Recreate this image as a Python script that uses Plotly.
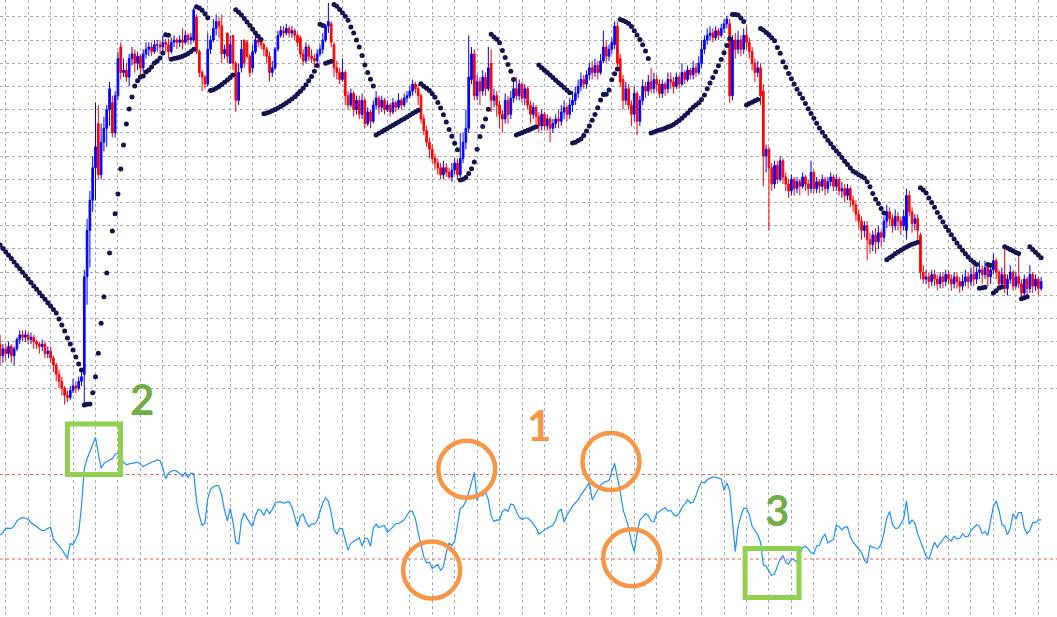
import plotly.graph_objects as go

# ---------------- data (price in points, oscillator in RSI-like units) ----------------
opens = [
119, 114, 117, 115, 118, 114, 117, 121,
123, 122, 123, 121, 122, 120, 119, 118,
119, 115, 116, 113, 110, 106, 103, 100,
97, 96, 99, 101, 100, 103, 106, 148,
168, 181, 195, 214, 192, 206, 212, 220,
223, 210, 226, 247, 236, 237, 234, 242,
244, 240, 243, 238, 244, 246, 247, 245,
248, 248, 247, 249, 248, 245, 249, 250,
249, 250, 249, 252, 250, 250, 260, 245,
236, 234, 231, 246, 250, 255, 258, 256,
244, 253, 240, 252, 240, 224, 238, 250,
249, 243, 238, 245, 250, 249, 248, 246,
243, 236, 238, 246, 252, 254, 253, 255,
253, 254, 252, 251, 244, 241, 247, 243,
242, 241, 244, 246, 250, 256, 257, 248,
238, 236, 233, 236, 226, 222, 227, 220,
224, 218, 224, 214, 219, 215, 222, 225,
221, 224, 220, 222, 219, 223, 221, 224,
222, 225, 226, 228, 231, 229, 226, 216,
211, 206, 203, 199, 197, 195, 192, 195,
193, 191, 194, 197, 192, 199, 206, 212,
233, 244, 226, 232, 228, 234, 229, 240,
224, 226, 222, 218, 216, 224, 218, 225,
229, 226, 231, 225, 229, 222, 218, 221,
217, 213, 218, 213, 216, 212, 214, 216,
215, 219, 221, 218, 222, 224, 227, 230,
233, 231, 235, 238, 236, 239, 236, 241,
247, 243, 246, 248, 256, 242, 233, 224,
229, 222, 218, 227, 215, 224, 230, 228,
232, 229, 233, 231, 227, 231, 229, 233,
232, 230, 234, 231, 236, 233, 237, 235,
238, 236, 240, 246, 250, 252, 253, 251,
254, 252, 255, 257, 257, 226, 250, 246,
250, 246, 252, 249, 245, 240, 236, 238,
228, 200, 203, 195, 188, 196, 190, 198,
191, 188, 185, 190, 186, 189, 187, 191,
188, 186, 193, 186, 189, 187, 190, 186,
189, 191, 187, 190, 185, 186, 183, 186,
181, 179, 175, 172, 168, 170, 164, 162,
166, 163, 167, 165, 172, 176, 173, 170,
174, 172, 170, 168, 183, 176, 171, 173,
166, 150, 147, 148, 146, 149, 147, 145,
148, 146, 149, 147, 145, 148, 146, 144,
146, 148, 146, 149, 147, 150, 151, 149,
152, 148, 151, 155, 150, 145, 149, 143,
147, 150, 144, 148, 145, 141, 147, 143,
149, 144, 147, 143,
]

highs = [
123, 119, 119, 120, 119, 118, 122, 125,
125, 125, 124, 124, 123, 121, 120, 121,
120, 118, 118, 114, 111, 108, 105, 101,
99, 101, 104, 103, 105, 107, 151, 173,
185, 200, 223, 222, 214, 217, 222, 232,
226, 228, 245, 249, 242, 240, 244, 247,
246, 245, 244, 246, 249, 249, 249, 250,
250, 250, 252, 250.5, 250.5, 251, 252, 251,
252, 255, 254, 253, 253, 264, 261, 246,
237, 235, 253, 252, 259, 261, 260, 261,
248, 253, 252, 252, 241, 240, 250, 250,
250, 244, 248, 252.5, 251, 250, 249, 247,
245, 241, 247, 254, 256, 256, 257, 256,
256, 255, 253, 252, 246, 249, 248, 246,
244, 246, 248, 253, 257, 266, 258, 249,
241, 238, 242, 237, 228, 229, 228, 226,
226, 227, 225, 221, 220, 224, 228, 226,
226, 225, 224, 223, 225, 224, 227, 225,
227, 228, 230, 233, 232, 231, 227, 218,
213, 208, 205, 201, 199, 197, 198, 197,
195, 197, 199, 199, 210, 210, 220, 252,
247, 246, 235, 234, 237, 236, 247, 246,
229, 228, 224, 220, 227, 226, 228, 232,
234, 233, 232, 231, 230, 224, 223, 222,
219, 220, 219, 218, 217, 216, 218, 220,
222, 224, 222, 225, 228, 230, 233, 236,
235, 237, 240, 241, 242, 241, 244, 254,
250, 248, 251, 258, 258, 244, 235, 232,
231, 224, 230, 228, 226, 233, 232, 235,
238, 236, 235, 233, 233, 232, 236, 236,
234, 236, 235, 240, 237, 239, 238, 241,
240, 243, 250, 252, 255, 256, 255, 256,
255, 257, 259, 260.5, 259, 252, 253, 254,
252, 255, 256, 251, 247, 242, 241, 240,
231, 205, 204, 197, 198, 198, 200, 199,
193, 190, 192, 191, 191, 190, 193, 192,
190, 198, 194, 191, 190, 192, 191, 191,
193, 192, 192, 191, 189, 188, 188, 187,
183, 181, 177, 174, 172, 172, 167, 168,
169, 170, 168, 174, 179, 178, 175, 177,
176, 174, 177, 186, 185, 178, 175, 175,
167, 153, 151, 150, 151, 151, 149, 150,
150, 151, 151, 149, 150, 150, 148, 149,
151, 150, 152, 153.5, 152, 155, 153, 155,
153, 153, 158, 156, 151, 152, 160, 149,
153, 151, 150, 158.5, 147, 149, 148, 153,
150, 149, 148, 148,
]

lows = [
110, 111, 112, 113, 111, 110, 116, 119,
120, 120, 119, 119, 117, 117, 115, 116,
113, 113, 111, 107, 103, 100, 97, 93,
94, 95, 98, 98, 99, 101, 93, 136,
152, 176, 181, 190, 190, 202, 204, 213,
208, 208, 224, 233, 234, 232, 230, 239,
236, 237, 235, 236, 242, 243, 243, 244,
245, 244, 245, 245, 242, 244, 247, 246,
247, 246, 248, 248, 248, 249, 244, 234,
228, 229, 230, 244, 249, 252, 251, 240,
242, 240, 240, 237, 219, 222, 236, 238,
242, 234, 236, 244, 247, 246, 243, 240,
232, 234, 237, 245, 251, 251, 252, 251,
251, 250, 247, 242, 239, 240, 241, 240,
238, 240, 243, 244, 249, 253, 247, 234,
233, 231, 232, 222, 220, 221, 217, 218,
216, 216, 212, 213, 212, 214, 220, 218,
219, 218, 219, 217, 218, 219, 220, 220,
221, 223, 225, 226, 227, 222, 214, 209,
204, 199, 197, 194, 192, 190, 190, 191,
190, 189, 192, 190, 191, 197, 203, 210,
231, 224, 224, 222, 226, 226, 228, 219,
221, 217, 212, 210, 214, 214, 216, 223,
224, 224, 223, 222, 220, 214, 216, 214,
210, 211, 211, 211, 206, 210, 212, 212,
213, 216, 215, 216, 219, 222, 225, 228,
229, 229, 233, 233, 234, 233, 235, 240,
240, 241, 244, 246, 238, 230, 220, 222,
220, 213, 215, 209, 213, 222, 225, 226,
227, 227, 228, 225, 225, 226, 227, 229,
227, 229, 229, 230, 231, 232, 233, 233,
234, 235, 238, 244, 248, 250, 249, 250,
250, 251, 253, 255, 223, 224, 242, 244,
243, 244, 246, 242, 237, 232, 234, 222,
187, 193, 168, 185, 186, 188, 189, 188,
185, 182, 183, 183, 184, 183, 186, 185,
183, 184, 184, 184, 184, 185, 183, 184,
187, 185, 185, 183, 182, 180, 181, 178,
176, 172, 169, 164, 165, 155, 158, 159,
158, 160, 161, 163, 169, 170, 167, 168,
168, 166, 168, 164, 174, 167, 168, 164,
147, 145, 145, 143, 144, 144, 142, 143,
143, 144, 145, 142, 143, 143, 141, 142,
144, 143, 144, 144, 145, 147, 145, 147,
144, 145, 149, 147, 143.5, 144, 141, 140,
145, 142, 143, 143, 139, 140, 140, 141,
141, 142, 140, 142,
]

closes = [
114, 117, 115, 118, 114, 117, 121, 123,
122, 123, 121, 122, 120, 119, 118, 119,
115, 116, 113, 110, 106, 103, 100, 97,
96, 99, 101, 100, 103, 105, 148, 168,
181, 195, 204, 192, 206, 212, 220, 229,
210, 226, 242, 236, 237, 234, 242, 244,
240, 243, 238, 244, 246, 247, 245, 248,
248, 247, 249, 248, 245, 249, 250, 249,
250, 249, 252, 250, 251, 263, 245, 236,
234, 231, 246, 250, 255, 258, 256, 244,
246, 243, 248, 240, 224, 236, 246, 240,
243, 236, 245, 250, 249, 248, 246, 243,
236, 238, 246, 252, 254, 253, 255, 253,
254, 252, 249, 244, 241, 247, 243, 242,
241, 244, 246, 250, 256, 258, 249, 238,
236, 233, 236, 226, 222, 227, 220, 224,
218, 224, 214, 219, 215, 222, 225, 221,
224, 220, 222, 219, 223, 221, 224, 222,
225, 226, 228, 231, 229, 226, 216, 211,
206, 203, 199, 197, 195, 192, 195, 193,
191, 194, 197, 192, 199, 206, 212, 234,
244, 226, 232, 228, 234, 229, 238, 224,
226, 222, 218, 216, 224, 218, 225, 229,
226, 231, 225, 229, 222, 218, 221, 217,
213, 218, 213, 216, 212, 214, 216, 215,
219, 221, 218, 222, 224, 227, 230, 233,
231, 235, 238, 236, 239, 236, 241, 247,
243, 246, 249, 256, 240, 232, 224, 229,
222, 218, 227, 215, 224, 230, 228, 232,
229, 233, 231, 227, 231, 229, 233, 232,
230, 234, 231, 236, 233, 237, 235, 238,
236, 240, 246, 250, 252, 253, 251, 254,
252, 255, 257, 259, 226, 250, 246, 250,
246, 252, 249, 245, 240, 236, 238, 226,
200, 203, 195, 188, 196, 190, 198, 191,
188, 185, 190, 186, 189, 187, 191, 188,
186, 193, 186, 189, 187, 190, 186, 189,
191, 187, 190, 185, 186, 183, 186, 181,
179, 175, 172, 168, 170, 164, 162, 166,
163, 167, 165, 172, 176, 173, 170, 174,
172, 170, 174, 183, 176, 171, 173, 168,
150, 147, 148, 146, 149, 147, 145, 148,
146, 149, 147, 145, 148, 146, 144, 146,
148, 146, 149, 147, 150, 151, 149, 152,
148, 151, 155, 150, 145, 149, 143, 147,
150, 144, 148, 145, 141, 147, 143, 149,
144, 147, 143, 146,
]

sar = [
161.7, 160.2, 158.8, 157.3, 155.9, 154.4, 152.9, 151.5, 150.0, 148.5,
147.1, 145.6, 144.1, 142.7, 141.2, 139.8, 138.3, 136.8, 135.4, 133.9,
132.4, 129.8, 127.3, 124.7, 121.7, 119.1, 116.5, 113.5, 110.5, 107.9,
92.8, 93.1, 93.2, 98.1, 105.0, 115.1, 128.0, 139.4, 149.7, 158.3,
167.7, 175.2, 183.7, 194.4, 204.8, 213.8, 220.3, 225.5, 230.2, 232.4,
234.1, 234.5, 236.2, 237.1, 238.4, 240.1, 241.0, 242.2, 244.4,
252.3, 252.0,
241.7, 242.0, 242.3, 242.6, 243.0, 243.5, 244.2, 245.0, 246.0,
264.3, 263.8, 262.8, 261.3, 259.6,
228.2, 228.6, 229.2, 230.0, 230.8, 231.8, 232.8, 233.8, 234.9,
263.0, 262.0, 260.8, 259.3, 257.8, 256.2, 254.6, 253.0, 251.6, 250.2,
218.2, 218.6, 219.0, 219.5, 220.1, 220.7, 221.4, 222.1, 222.9, 223.7,
224.6, 225.6, 226.7, 227.9, 229.2, 230.7, 232.4, 234.3, 236.5, 239.0,
256.8, 256.2,
240.0, 240.4, 240.9,
265.3, 264.5, 263.1, 261.7, 260.2, 258.5, 255.6, 253.0, 250.0, 247.0,
243.3, 239.2, 236.0, 233.1, 230.2,
209.1, 209.8, 210.5, 211.2, 211.9, 212.6, 213.3, 214.0, 214.7, 215.4,
216.1, 216.8, 217.6, 218.3, 219.0, 219.7,
231.2, 230.1, 229.2, 228.2, 226.8, 225.3, 223.1, 220.7, 217.8, 214.7,
211.5, 208.5, 205.5, 202.7,
189.7, 190.0, 190.8, 192.5, 194.5, 197.5, 203.0, 208.4, 212.7, 216.0, 220.2,
252.5, 251.3, 250.3, 248.8, 245.5, 242.5, 239.5, 236.5, 233.0,
209.1, 209.6, 210.1, 210.6, 211.1, 211.6, 212.1, 212.6,
239.2, 238.1, 237.0, 236.0, 234.9, 233.8, 232.7, 231.6, 230.6, 229.5,
228.4, 227.3,
205.6, 206.0, 206.7, 207.4, 208.9, 210.8, 213.0, 215.4, 217.9, 220.8,
224.2, 226.5, 226.6, 228.5, 232.9, 235.5, 237.5,
258.8, 258.4, 257.9, 257.1, 255.8, 254.0, 252.1, 250.2, 248.0, 245.3, 242.0,
210.0, 210.4, 210.8, 211.2, 211.6, 212.0, 212.5, 213.0, 213.6, 214.5,
215.3, 216.3, 217.5, 218.6, 219.8, 221.0, 222.0, 223.0, 224.4, 226.3,
229.0, 231.5, 233.8, 236.3, 238.9, 241.6, 244.5, 247.6, 250.5,
261.0, 261.0, 260.8, 259.5, 258.0,
222.0, 222.6, 223.2, 223.8, 224.4,
255.0, 254.3, 253.2, 252.3, 251.0, 249.7, 246.8, 244.3, 240.6, 238.3,
235.6, 233.3, 231.1, 228.8, 226.8, 224.9, 222.6, 220.4, 218.3, 216.3,
214.2, 212.1, 210.3, 208.5, 206.8, 205.3, 203.7, 202.2, 200.9, 199.4,
197.8, 196.4, 194.9, 193.5, 192.8, 192.0, 191.3, 190.6, 189.0, 186.8,
183.9, 181.4, 179.6, 177.4, 175.5,
155.4, 156.2, 157.0, 157.9, 158.7, 159.5, 160.2, 160.9, 161.5, 162.0,
162.5, 162.9,
186.4, 185.4, 184.1, 182.0, 180.0, 178.0, 175.7, 173.7, 171.6, 169.6,
168.0, 166.1, 164.3, 162.6, 161.0, 159.4, 157.9, 156.5, 155.3, 154.3, 153.3,
143.1, 143.3, 143.5,
153.3, 153.0,
141.0, 142.0, 143.2, 143.6,
161.0, 160.4, 159.8, 159.1, 158.5, 158.0,
138.6, 139.0, 139.4,
161.0, 159.8, 158.6, 157.4, 156.2,
]

osc = [
41.3, 42.5, 44.6, 44.4, 44.5, 45.8, 48, 49,
49.6, 49.3, 48.8, 47.3, 46.2, 45, 44.3, 43.4,
43.6, 44.5, 45, 39.4, 37.8, 36.2, 34.6, 32.3,
30.5, 37.3, 36.8, 39.5, 42.5, 55, 72.8, 77.5,
80.8, 83.5, 87.5, 80, 73, 75.2, 76.2, 76.9,
77.5, 79.5, 80.2, 77.4, 75.8, 74.6, 75, 75.3,
75.8, 75.9, 74.9, 73.8, 74.5, 75.3, 75.8, 76.3,
77, 76.5, 73, 68, 70.6, 71.5, 72, 71.5,
70.5, 69, 71, 68.5, 70.6, 70.5, 57.5, 50.5,
46, 47, 58.5, 63, 64.2, 64.8, 64.5, 60,
53, 48, 54, 47.5, 38, 37, 48, 51.8,
49.5, 47, 45.5, 50.5, 53.5, 53, 50.6, 53.8,
51.5, 53.5, 56.5, 57, 57, 56.4, 56.8, 57.1,
54.6, 49.5, 45.3, 50.2, 51.2, 47.5, 45.4, 46.6,
46.5, 48.1, 52.2, 56.5, 59, 57.3, 51.8, 44.1,
41.7, 44.7, 44.2, 38.8, 34.2, 37.4, 38.4, 39.4,
40.1, 36, 40, 39.6, 36, 44.5, 46.5, 44.8,
45.6, 45.8, 42.6, 43.8, 45.2, 46.7, 46.9, 47.5,
48.6, 50.5, 52.8, 52.5, 49, 42.5, 36, 31,
28.1, 28.5, 25.5, 26.4, 27.5, 24.5, 26.5, 33,
37.5, 36.4, 38.6, 46, 54, 54.8, 57.4, 61.3,
66.7, 71, 57.6, 61.5, 59.8, 61.7, 58, 50.4,
47.8, 48.5, 48.4, 52.5, 53.5, 52.5, 56, 55.6,
52.5, 49.8, 48.7, 49.4, 49.4, 48.3, 46.6, 44.8,
41.8, 42.6, 43.9, 44.7, 45.4, 46, 48.5, 52.5,
53.5, 47.5, 50.8, 53, 55, 56.5, 58, 60.4,
62, 64, 66.4, 58, 60.3, 62.4, 65, 66.2,
66.6, 67.1, 71.5, 75.3, 68.5, 62, 53.5, 48.7,
45, 38, 33.5, 42, 48.4, 49.7, 51.5, 50.5,
48, 47.6, 51.6, 52.5, 53.4, 54.4, 52.7, 53,
51.2, 50.3, 51.5, 54.5, 56, 58, 56.5, 56.8,
60, 64, 66.5, 66, 67.5, 68.4, 69, 68.6,
68.4, 67.8, 62.5, 66, 62.5, 48, 33.5, 45,
50.5, 54, 54, 51, 45.5, 43.5, 41.5, 38,
27.2, 26.6, 24.3, 22.2, 23, 27, 30, 31.5,
28.5, 27.5, 30.2, 29.5, 28.5, 32.5, 35.6, 36,
34.8, 33, 32.5, 36.2, 36.5, 40, 41.8, 37.6,
38.5, 39.3, 46, 45.3, 43.8, 45.1, 45.2, 40.5,
38, 36.3, 34.6, 33, 29.5, 28, 36.2, 35.5,
35.1, 35.1, 37, 42.5, 49.5, 52.5, 46.5, 44.5,
44.6, 46.5, 49, 57.5, 46.5, 48.5, 47, 42,
38.5, 35.8, 31.3, 29.8, 34, 38, 35.5, 37.5,
39.5, 41, 39.5, 38.5, 40.8, 39.5, 39.8, 42,
40.5, 40.8, 43.5, 44.8, 46.2, 45.5, 42, 43,
41.2, 48, 55, 57.5, 53, 46.5, 45.4, 41.5,
44.5, 51.5, 48.8, 52, 52, 44.5, 42, 43.5,
47.3, 47.2, 48.5, 48.5,
]

osc_levels = [70, 30]
price_grid = list(range(100, 261, 10))

# annotation anchors in data units: (bar index, oscillator value)
circle_marks = [(166.3, 72.5), (153.8, 24.8), (217.7, 76.1), (225.1, 30.6)]
square_marks = [(24.0, 42.9, 70.0, 93.9), (265.5, 284.7, 11.8, 35.0)]
label_marks = [("1", 192.0, 93.4, "#F79646"), ("2", 50.6, 105.7, "#70AD47"), ("3", 276.9, 53.2, "#70AD47")]

# ---------------- figure ----------------
W, H = 1057, 617
BAR_PX = 2.806          # horizontal spacing of bars
X0_PX = 0.1             # position of the first bar
PRICE_PX = 2.322        # pixels per price point
PRICE_100_Y = 388.3     # vertical position of the 100 level
OSC_PX = 2.1125         # pixels per oscillator unit
OSC_70_Y = 474.5        # vertical position of the 70 level

n = min(len(opens), len(highs), len(lows), len(closes), len(sar), len(osc))
x = list(range(n))
hi = [max(highs[i], opens[i], closes[i]) for i in range(n)]
lo = [min(lows[i], opens[i], closes[i]) for i in range(n)]

fig = go.Figure()
fig.add_trace(go.Candlestick(
    x=x, open=opens[:n], high=hi, low=lo, close=closes[:n],
    increasing=dict(line=dict(color="#0000ff", width=1), fillcolor="#0000ff"),
    decreasing=dict(line=dict(color="#ff0000", width=1), fillcolor="#ff0000"),
    whiskerwidth=0, hoverinfo="skip", yaxis="y",
))
fig.add_trace(go.Scatter(
    x=x, y=sar[:n], mode="markers",
    marker=dict(size=5, color="#121250", line=dict(width=0)),
    hoverinfo="skip", yaxis="y",
))
fig.add_trace(go.Scatter(
    x=x, y=osc[:n], mode="lines",
    line=dict(color="#1e90ff", width=1.2),
    hoverinfo="skip", yaxis="y2",
))

shapes = []
for lv in osc_levels:
    shapes.append(dict(type="line", xref="paper", x0=0, x1=1, yref="y2", y0=lv, y1=lv,
                       line=dict(color="#f05a5a", width=1, dash="dot"), layer="below"))
for cx, cy in circle_marks:
    shapes.append(dict(type="circle", xref="x", yref="y2", xsizemode="pixel", ysizemode="pixel",
                       xanchor=cx, yanchor=cy, x0=-28.5, x1=28.5, y0=-28.5, y1=28.5,
                       line=dict(color="#F79646", width=4.5), layer="above"))
for x0, x1, y0, y1 in square_marks:
    shapes.append(dict(type="rect", xref="x", yref="y2", x0=x0, x1=x1, y0=y0, y1=y1,
                       line=dict(color="#92D050", width=5), layer="above"))

annotations = []
for txt, ax_, ay_, col in label_marks:
    annotations.append(dict(text="<b>%s</b>" % txt, x=ax_, y=ay_, xref="x", yref="y2",
                            showarrow=False, xanchor="center", yanchor="middle",
                            font=dict(family="Lato, Open Sans, Arial", size=42, color=col)))

grid_col = "#a3adba"
fig.update_layout(
    width=W, height=H, margin=dict(l=0, r=0, t=0, b=0, pad=0),
    paper_bgcolor="white", plot_bgcolor="white", showlegend=False,
    boxgap=0.15,
    shapes=shapes, annotations=annotations,
    xaxis=dict(range=[(0 - X0_PX) / BAR_PX, (W - X0_PX) / BAR_PX],
               showgrid=True, gridcolor=grid_col, griddash="dot", gridwidth=1,
               tick0=2, dtick=8, showticklabels=False, ticks="", zeroline=False,
               showline=False, rangeslider=dict(visible=False), fixedrange=True),
    yaxis=dict(range=[100 - (H - PRICE_100_Y) / PRICE_PX, 100 + PRICE_100_Y / PRICE_PX],
               tickvals=price_grid, showgrid=True, gridcolor=grid_col, griddash="dot",
               gridwidth=1, showticklabels=False, ticks="", zeroline=False, showline=False,
               fixedrange=True),
    yaxis2=dict(range=[70 - (H - OSC_70_Y) / OSC_PX, 70 + OSC_70_Y / OSC_PX],
                overlaying="y", showgrid=False, showticklabels=False, ticks="",
                zeroline=False, showline=False, fixedrange=True),
)

fig.write_html(
    "out.html",
    config={"displayModeBar": False, "staticPlot": True},
    post_script="document.body.style.margin='0px';document.body.style.overflow='hidden';",
)
